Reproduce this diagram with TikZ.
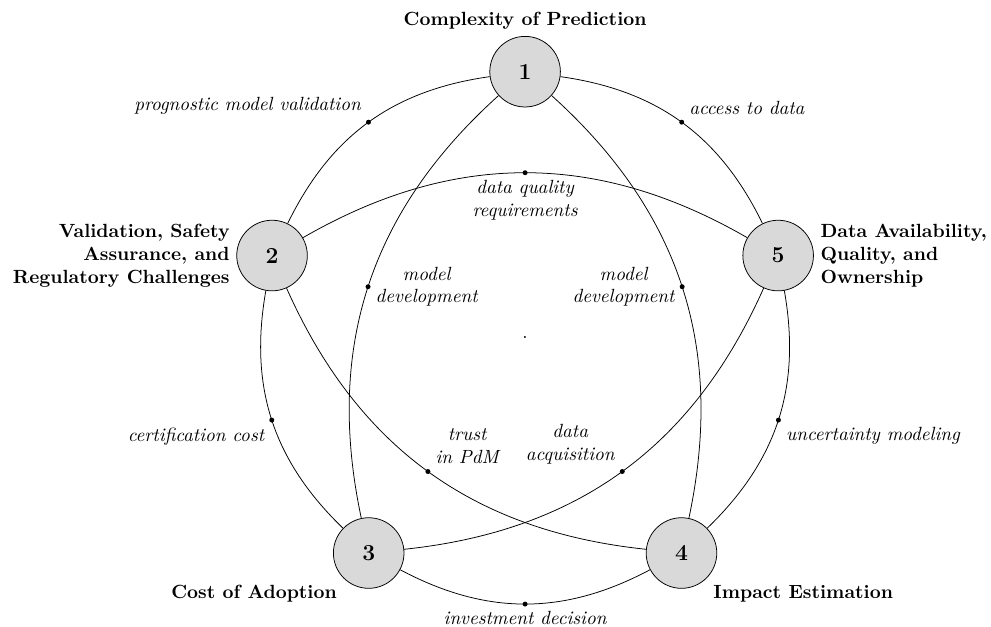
\documentclass[tikz,border=0pt]{standalone}
\usepackage{tikz}

% styles for the challenge map
\tikzset{
  issue/.style={circle, draw, fill=gray!30, minimum size=1.3cm, inner sep=0pt, font=\large\bfseries},
  topic/.style={font=\bfseries, align=#1},
  mid/.style={circle, fill, inner sep=0pt, minimum size=2.6pt},
  link/.style={font=\itshape, align=center, inner sep=3.8pt},
}

\begin{document}
\begin{tikzpicture}
\useasboundingbox (-9.67,-5.32) rectangle (8.58,6.22);

% the five challenges
\node[issue, label={[topic=center]above:Complexity of Prediction}] (c1) at (90:4.9) {1};
\node[issue, label={[topic=right]left:{Validation, Safety\\Assurance, and\\Regulatory Challenges}}] (c2) at (162:4.9) {2};
\node[issue, label={[topic=center]below left:Cost of Adoption}] (c3) at (234:4.9) {3};
\node[issue, label={[topic=center]below right:Impact Estimation}] (c4) at (306:4.9) {4};
\node[issue, label={[topic=left]right:{Data Availability,\\Quality, and\\Ownership}}] (c5) at (18:4.9) {5};

\node (o) at (0,0) {.};

% outer ring
\draw (c1) to[bend right=28] node[mid] (d12) {} node[link, anchor=south east] (t12) {prognostic model validation} (c2);
\draw (c2) to[bend right=28] node[mid] (d23) {} node[link, anchor=north east] (t23) {certification cost} (c3);
\draw (c3) to[bend right=28] node[mid] (d34) {} node[link, anchor=north] (t34) {investment decision} (c4);
\draw (c4) to[bend right=28] node[mid] (d45) {} node[link, anchor=north west] (t45) {uncertainty modeling} (c5);
\draw (c5) to[bend right=28] node[mid] (d51) {} node[link, anchor=south west] (t51) {access to data} (c1);

% inner star
\draw (c1) to[bend right=30] node[mid] (d13) {} node[link, anchor=west] (t13) {model\\development} (c3);
\draw (c1) to[bend left=30] node[mid] (d14) {} node[link, anchor=east] (t14) {model\\development} (c4);
\draw (c2) to[bend left=30] node[mid] (d25) {} node[link, anchor=north] (t25) {data quality\\requirements} (c5);
\draw (c2) to[bend right=30] node[mid] (d24) {} node[link, anchor=south west] (t24) {trust\\in PdM} (c4);
\draw (c3) to[bend right=30] node[mid] (d35) {} node[link, anchor=south east] (t35) {data\\acquisition} (c5);

\end{tikzpicture}
\end{document}
